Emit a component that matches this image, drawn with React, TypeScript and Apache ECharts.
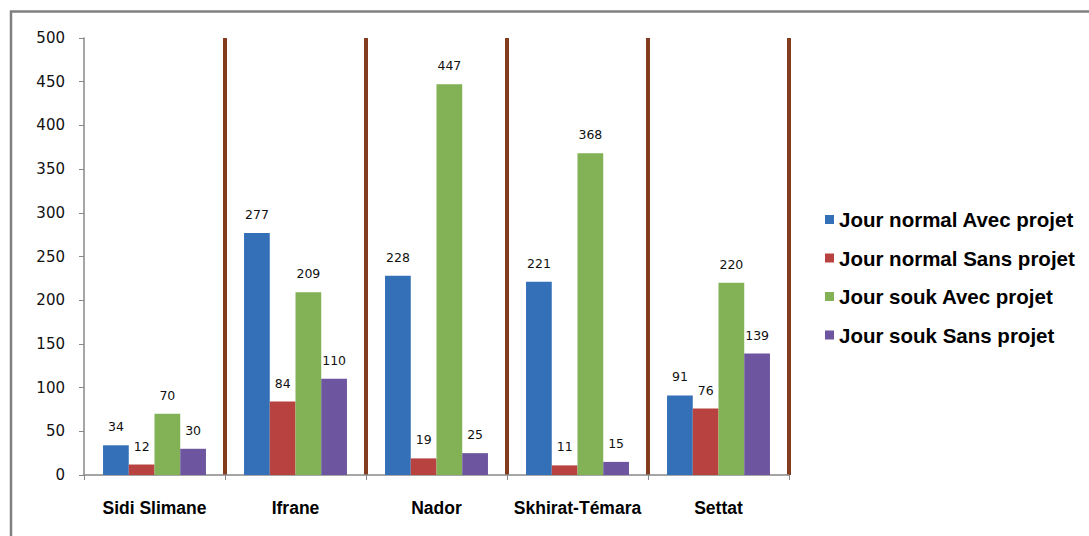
import React, { useEffect, useRef } from "react";
import * as echarts from "echarts";

const categories = ["Sidi Slimane", "Ifrane", "Nador", "Skhirat-Témara", "Settat"];
const seriesNames = [
  "Jour normal Avec projet",
  "Jour normal Sans projet",
  "Jour souk Avec projet",
  "Jour souk Sans projet",
];
const normalAvec = [34, 277, 228, 221, 91];
const normalSans = [12, 84, 19, 11, 76];
const soukAvec = [70, 209, 447, 368, 220];
const soukSans = [30, 110, 25, 15, 139];
const colors = ["#3470B8", "#B8423F", "#82B255", "#6D559F"];

export default function App() {
  const ref = useRef<HTMLDivElement>(null);
  useEffect(() => {
    if (!ref.current) return;
    const chart = echarts.init(ref.current, null, { renderer: "svg" });
    const values = [normalAvec, normalSans, soukAvec, soukSans];
    chart.setOption({
      animation: false,
      backgroundColor: "#ffffff",
      graphic: [
        {
          type: "rect",
          shape: { x: 11, y: 11.5, width: 1200, height: 700 },
          style: { fill: "none", stroke: "#808080", lineWidth: 2.5 },
          silent: true,
        },
      ],
      legend: {
        orient: "vertical",
        left: 825,
        top: 209,
        padding: 0,
        itemWidth: 9,
        itemHeight: 9,
        itemGap: 17.5,
        icon: "rect",
        data: seriesNames,
        textStyle: {
          fontFamily: "Liberation Sans",
          fontWeight: "bold",
          fontSize: 20.5,
          color: "#000",
          lineHeight: 21,
        },
      },
      grid: { left: 84, right: 300, top: 38, bottom: 61, containLabel: false },
      xAxis: {
        type: "category",
        data: categories,
        axisLine: { lineStyle: { color: "#888888", width: 1.5 } },
        axisTick: { show: true, interval: 0, length: 5, lineStyle: { color: "#888888" } },
        axisLabel: {
          interval: 0,
          margin: 24,
          fontFamily: "Liberation Sans",
          fontWeight: "bold",
          fontSize: 17.5,
          color: "#000",
        },
        splitLine: {
          show: true,
          interval: 0,
          showMinLine: false,
          showMaxLine: true,
          lineStyle: { color: "#843C1E", width: 4 },
        },
      },
      yAxis: {
        type: "value",
        min: 0,
        max: 500,
        interval: 50,
        axisLine: { show: true, lineStyle: { color: "#888888", width: 1.5 } },
        axisTick: { show: true, length: 5, lineStyle: { color: "#888888" } },
        splitLine: { show: false },
        axisLabel: {
          margin: 19,
          fontFamily: "DejaVu Sans",
          fontSize: 15,
          color: "#111",
        },
      },
      series: seriesNames.map((name, i) => ({
        name,
        type: "bar",
        data: values[i],
        barGap: "0%",
        barCategoryGap: "27%",
        itemStyle: { color: colors[i] },
        label: {
          show: true,
          position: "top",
          distance: 12,
          fontFamily: "DejaVu Sans",
          fontSize: 12.5,
          color: "#111",
        },
      })),
    });
    return () => chart.dispose();
  }, []);
  return (
    <div
      ref={ref}
      style={{ position: "absolute", left: 0, top: 0, width: 1089, height: 536 }}
    />
  );
}
